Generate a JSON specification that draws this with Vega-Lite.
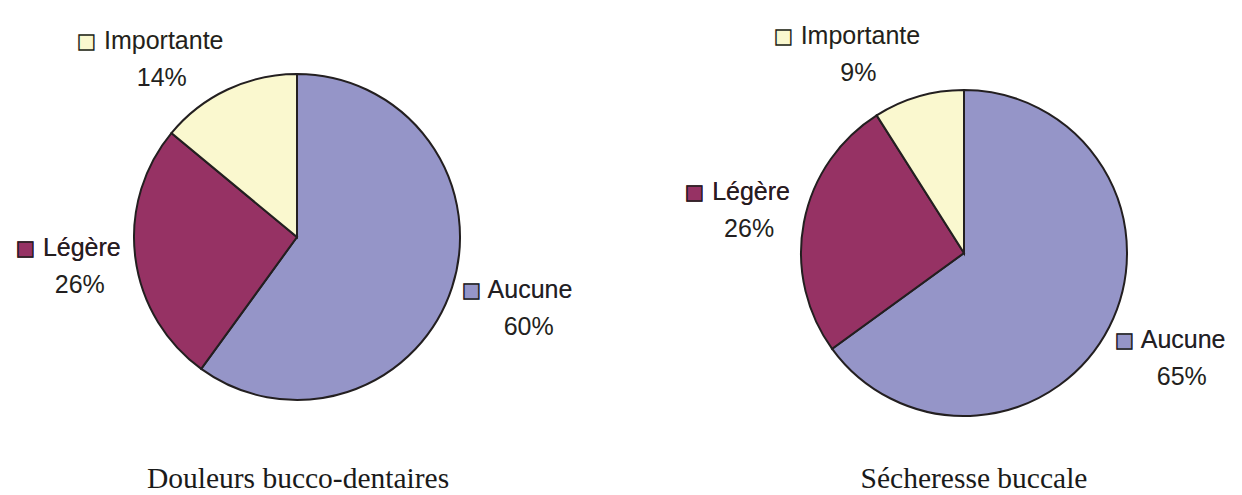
{
  "$schema": "https://vega.github.io/schema/vega-lite/v6.json",
  "width": 1242,
  "height": 495,
  "autosize": {"type": "none"},
  "padding": 0,
  "background": "white",
  "config": {"view": {"stroke": null}},
  "data": {
    "values": [
      {"chart": "Douleurs bucco-dentaires", "category": "Aucune", "pct": 60, "ord": 1},
      {"chart": "Douleurs bucco-dentaires", "category": "Légère", "pct": 26, "ord": 2},
      {"chart": "Douleurs bucco-dentaires", "category": "Importante", "pct": 14, "ord": 3},
      {"chart": "Sécheresse buccale", "category": "Aucune", "pct": 65, "ord": 1},
      {"chart": "Sécheresse buccale", "category": "Légère", "pct": 26, "ord": 2},
      {"chart": "Sécheresse buccale", "category": "Importante", "pct": 9, "ord": 3}
    ]
  },
  "transform": [
    {"stack": "pct", "groupby": ["chart"], "sort": [{"field": "ord"}], "as": ["p0", "p1"], "offset": "normalize"},
    {"calculate": "(datum.p0 + datum.p1) / 2", "as": "pmid"},
    {"calculate": "'◼ ' + datum.category", "as": "sq"},
    {"calculate": "'◻ ' + datum.category", "as": "nm"},
    {"calculate": "datum.pct + '%'", "as": "lbl"}
  ],
  "layer": [
    {
      "encoding": {
        "x": {"field": "chart", "type": "nominal", "sort": null,
              "scale": {"type": "point", "range": [297, 964], "padding": 0}, "axis": null},
        "y": {"field": "chart", "type": "nominal", "sort": null,
              "scale": {"type": "point", "range": [237, 253], "padding": 0}, "axis": null}
      },
      "layer": [
        {
          "mark": {"type": "arc", "outerRadius": 163, "stroke": "#231F20", "strokeWidth": 2},
          "encoding": {
            "theta": {"field": "p0", "type": "quantitative", "scale": {"domain": [0, 1]}},
            "theta2": {"field": "p1"},
            "color": {"field": "category", "type": "nominal",
                      "scale": {"domain": ["Aucune", "Légère", "Importante"], "range": ["#9595C8", "#963264", "#FAF8CF"]},
                      "legend": null}
          }
        },
        {
          "encoding": {
            "theta": {"field": "pmid", "type": "quantitative",
                      "scale": {"domain": [0, 0.8, 0.85, 1], "range": [0, 5.02655, 5.08938, 6.03186]}}
          },
          "layer": [
            {
              "mark": {"type": "text", "radius": 231, "dy": -18, "font": "Liberation Sans", "fontSize": 25, "align": "center", "baseline": "middle"},
              "encoding": {
                "text": {"field": "sq"},
                "color": {"field": "category", "type": "nominal", "legend": null}
              }
            },
            {
              "mark": {"type": "text", "radius": 231, "dy": -18, "font": "Liberation Sans", "fontSize": 25, "align": "center", "baseline": "middle", "color": "#231F20"},
              "encoding": {"text": {"field": "nm"}}
            },
            {
              "mark": {"type": "text", "radius": 231, "dy": 19, "dx": 12, "font": "Liberation Sans", "fontSize": 25, "align": "center", "baseline": "middle", "color": "#231F20"},
              "encoding": {"text": {"field": "lbl"}}
            }
          ]
        }
      ],
      "resolve": {"scale": {"theta": "independent"}}
    },
    {
      "transform": [{"filter": "datum.ord == 1"}],
      "mark": {"type": "text", "font": "Liberation Serif", "fontSize": 29.5, "align": "center", "baseline": "alphabetic", "color": "#1a1a1a"},
      "encoding": {
        "x": {"field": "chart", "type": "nominal", "sort": null,
              "scale": {"type": "point", "range": [298, 974], "padding": 0}, "axis": null},
        "y": {"field": "chart", "type": "nominal", "sort": null,
              "scale": {"type": "point", "range": [488, 488], "padding": 0}, "axis": null},
        "text": {"field": "chart"}
      }
    }
  ],
  "resolve": {"scale": {"x": "independent", "y": "independent"}}
}
